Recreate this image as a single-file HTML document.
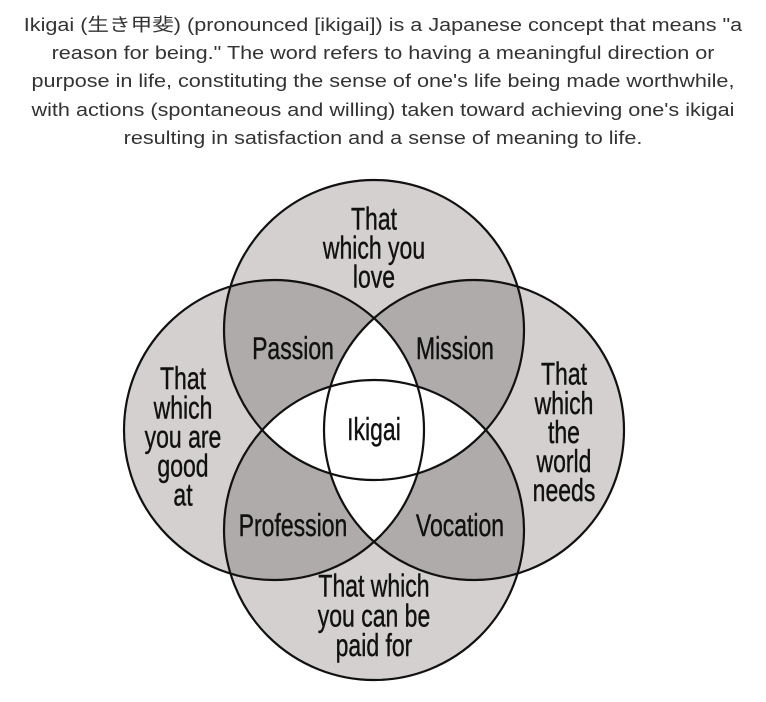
<!DOCTYPE html>
<html><head><meta charset="utf-8"><style>
html,body{margin:0;padding:0;background:#fff;width:766px;height:702px;overflow:hidden}
.p{position:absolute;left:0;top:11px;width:766px;text-align:center;font-family:"Liberation Sans","Noto Sans CJK JP",sans-serif;font-size:18px;line-height:28.2px;color:#333;transform:scaleX(1.2);transform-origin:383px 0}
svg{position:absolute;left:0;top:0}
text{font-family:"Liberation Sans Narrow","Liberation Sans",sans-serif;font-size:23px;fill:#111;text-anchor:middle;stroke:#111;stroke-width:0.3}
</style></head><body>
<div class="p">Ikigai (生き甲斐) (pronounced [ikigai]) is a Japanese concept that means "a<br>reason for being." The word refers to having a meaningful direction or<br>purpose in life, constituting the sense of one's life being made worthwhile,<br>with actions (spontaneous and willing) taken toward achieving one's ikigai<br>resulting in satisfaction and a sense of meaning to life.</div>
<svg width="766" height="702" viewBox="0 0 766 702">
<defs>
<clipPath id="cT"><circle cx="374" cy="330" r="150"/></clipPath>
<clipPath id="cB"><circle cx="374" cy="530" r="150"/></clipPath>
<clipPath id="cL"><circle cx="274" cy="430" r="150"/></clipPath>
<clipPath id="cR"><circle cx="474" cy="430" r="150"/></clipPath>
</defs>
<g fill="#d3d0cf">
<circle cx="374" cy="330" r="150"/><circle cx="374" cy="530" r="150"/>
<circle cx="274" cy="430" r="150"/><circle cx="474" cy="430" r="150"/>
</g>
<g fill="#aeabaa">
<g clip-path="url(#cT)"><circle cx="274" cy="430" r="150"/><circle cx="474" cy="430" r="150"/></g>
<g clip-path="url(#cB)"><circle cx="274" cy="430" r="150"/><circle cx="474" cy="430" r="150"/></g>
</g>
<g fill="#fff">
<g clip-path="url(#cT)"><circle cx="374" cy="530" r="150"/></g>
<g clip-path="url(#cL)"><circle cx="474" cy="430" r="150"/></g>
</g>
<g fill="none" stroke="#111" stroke-width="2.2">
<circle cx="374" cy="330" r="150"/><circle cx="374" cy="530" r="150"/>
<circle cx="274" cy="430" r="150"/><circle cx="474" cy="430" r="150"/>
</g>
<g transform="scale(1,1.35)">
<text x="374" y="170">That</text>
<text x="374" y="191.5">which you</text>
<text x="374" y="213">love</text>
<text x="293" y="266">Passion</text>
<text x="455" y="266">Mission</text>
<text x="374" y="326">Ikigai</text>
<text x="293" y="397">Profession</text>
<text x="460" y="397">Vocation</text>
<text x="183" y="288">That</text>
<text x="183" y="310">which</text>
<text x="183" y="331.5">you are</text>
<text x="183" y="353">good</text>
<text x="183" y="374.5">at</text>
<text x="564" y="285">That</text>
<text x="564" y="306.5">which</text>
<text x="564" y="328">the</text>
<text x="564" y="349.5">world</text>
<text x="564" y="371">needs</text>
<text x="374" y="442">That which</text>
<text x="374" y="464">you can be</text>
<text x="374" y="486">paid for</text>
</g>
</svg>
</body></html>
